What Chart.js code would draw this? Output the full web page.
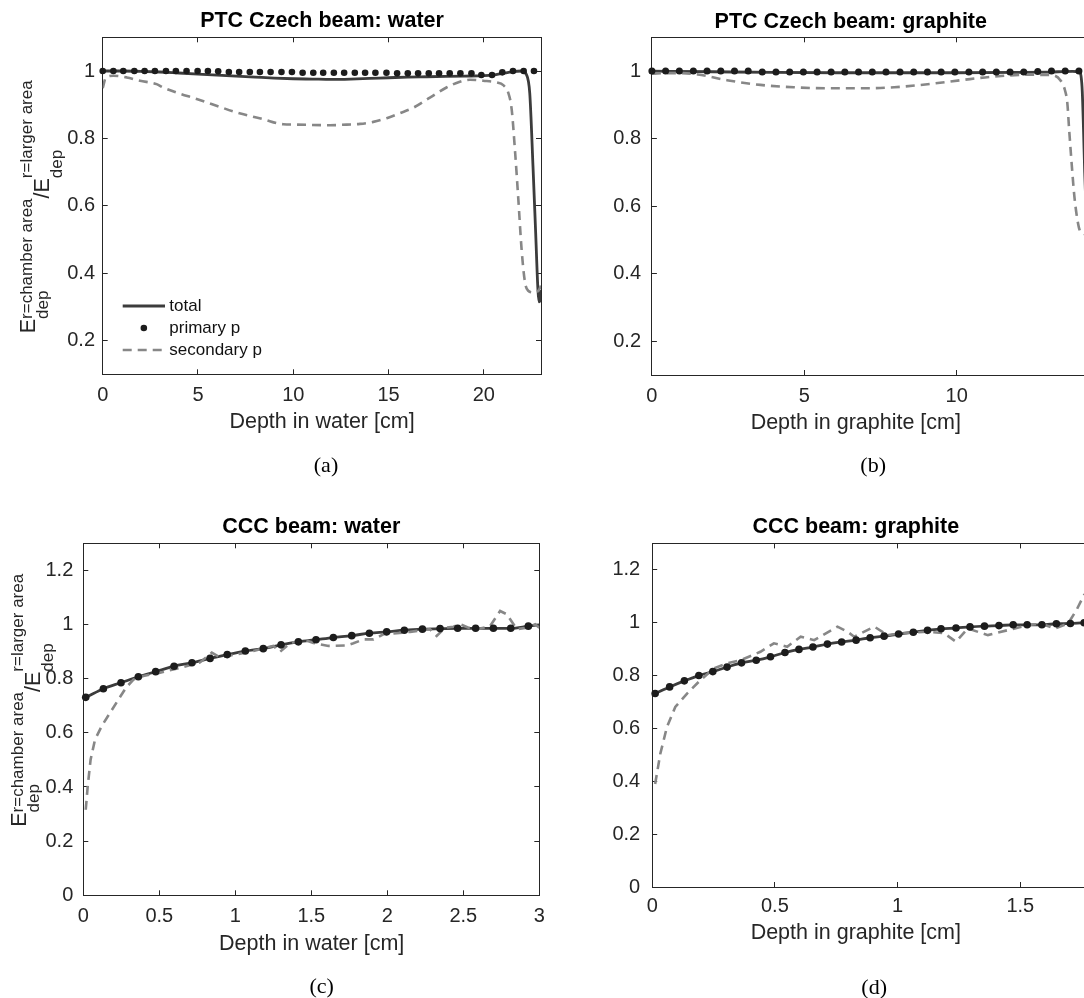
<!DOCTYPE html>
<html>
<head>
<meta charset="utf-8">
<title>Energy deposition ratio vs depth</title>
<script src="https://cdn.jsdelivr.net/npm/chart.js@4.4.1/dist/chart.umd.min.js"></script>
<style>
  html, body { margin: 0; padding: 0; background: #fff; }
  #fig { position: relative; width: 1084px; height: 998px; overflow: hidden; background: #fff; }
  #fig canvas { position: absolute; }
</style>
</head>
<body>
<div id="fig">
  <canvas id="ptcWater"></canvas>
  <canvas id="ptcGraphite"></canvas>
  <canvas id="cccWater"></canvas>
  <canvas id="cccGraphite"></canvas>
</div>
<script>
// ---------- PTC Czech beam, water ----------
const ptcWaterTotalX = [0, 1, 2, 3, 4, 5, 6, 7, 8, 9, 10, 11, 12, 13, 14, 15, 16, 17, 18, 19, 20, 20.5, 21, 21.5, 22, 22.23, 22.41, 22.58, 22.72, 22.84, 22.9, 22.96, 23.0];
const ptcWaterTotalY = [1.0, 1.0, 0.999, 0.997, 0.994, 0.991, 0.988, 0.985, 0.982, 0.979, 0.977, 0.976, 0.975, 0.976, 0.978, 0.980, 0.982, 0.983, 0.984, 0.985, 0.986, 0.988, 0.993, 0.998, 1.0, 0.99, 0.934, 0.717, 0.52, 0.35, 0.315, 0.32, 0.35];
const ptcWaterPrimaryX = [0, 0.56, 1.08, 1.66, 2.2, 2.74, 3.32, 3.84, 4.4, 4.98, 5.52, 6.06, 6.62, 7.16, 7.72, 8.25, 8.81, 9.38, 9.93, 10.49, 11.05, 11.57, 12.13, 12.67, 13.23, 13.77, 14.31, 14.89, 15.45, 16.01, 16.55, 17.11, 17.65, 18.21, 18.77, 19.35, 19.87, 20.43, 20.97, 21.53, 22.09, 22.63];
const ptcWaterPrimaryY = [1, 1, 1, 1, 1, 1, 1, 1, 1, 1, 1, 0.999, 0.997, 0.997, 0.997, 0.997, 0.997, 0.997, 0.997, 0.995, 0.995, 0.995, 0.995, 0.995, 0.995, 0.995, 0.995, 0.995, 0.993, 0.993, 0.993, 0.993, 0.993, 0.993, 0.993, 0.993, 0.988, 0.988, 0.996, 1, 1, 1];
const ptcWaterSecondaryX = [0, 0.17, 0.56, 1.26, 1.96, 2.83, 3.18, 3.88, 4.93, 5.97, 7.02, 8.42, 9.47, 10.17, 11.92, 12.8, 13.5, 14.2, 14.9, 15.6, 16.3, 17.17, 18.04, 18.74, 19.27, 19.97, 20.67, 21.02, 21.28, 21.46, 21.63, 21.81, 21.98, 22.16, 22.33, 22.59, 22.86, 23.0];
const ptcWaterSecondaryY = [0.949, 0.981, 0.986, 0.981, 0.971, 0.961, 0.951, 0.936, 0.917, 0.897, 0.877, 0.857, 0.842, 0.841, 0.839, 0.841, 0.843, 0.849, 0.86, 0.875, 0.891, 0.921, 0.951, 0.968, 0.974, 0.971, 0.966, 0.958, 0.936, 0.887, 0.768, 0.62, 0.472, 0.373, 0.348, 0.343, 0.348, 0.363];

// ---------- PTC Czech beam, graphite ----------
const ptcGraphiteTotalX = [0, 2, 4, 6, 8, 10, 12, 13, 13.8, 14.02, 14.08, 14.12, 14.16, 14.2, 14.28, 14.36, 14.45];
const ptcGraphiteTotalY = [1.0, 0.998, 0.996, 0.995, 0.995, 0.995, 0.996, 0.997, 0.999, 0.998, 0.985, 0.94, 0.83, 0.7, 0.5, 0.36, 0.32];
const ptcGraphitePrimaryX = [0, 0.45, 0.9, 1.36, 1.81, 2.26, 2.71, 3.16, 3.62, 4.07, 4.52, 4.97, 5.42, 5.88, 6.33, 6.78, 7.23, 7.68, 8.14, 8.59, 9.04, 9.49, 9.94, 10.4, 10.85, 11.3, 11.75, 12.2, 12.66, 13.11, 13.56, 14.01];
const ptcGraphitePrimaryY = [1, 1, 1, 1, 1, 1, 1, 1, 0.997, 0.997, 0.997, 0.997, 0.997, 0.997, 0.997, 0.997, 0.997, 0.997, 0.997, 0.997, 0.997, 0.997, 0.997, 0.997, 0.997, 0.997, 0.997, 0.997, 0.999, 1, 1, 1];
const ptcGraphiteSecondaryX = [0, 0.5, 1.0, 1.5, 2.46, 3.56, 4.66, 5.75, 7.07, 7.95, 9.04, 10.14, 11.24, 12.33, 13.12, 13.4, 13.55, 13.63, 13.69, 13.77, 13.86, 13.96, 14.05, 14.16, 14.35];
const ptcGraphiteSecondaryY = [0.992, 0.994, 0.994, 0.99, 0.973, 0.959, 0.952, 0.949, 0.949, 0.952, 0.961, 0.973, 0.984, 0.989, 0.988, 0.973, 0.944, 0.905, 0.826, 0.728, 0.63, 0.56, 0.526, 0.52, 0.5];

// ---------- CCC beam, water ----------
const cccWaterTotalX = [0, 0.016, 0.132, 0.248, 0.362, 0.476, 0.597, 0.715, 0.834, 0.947, 1.066, 1.184, 1.301, 1.415, 1.531, 1.645, 1.766, 1.882, 1.996, 2.112, 2.231, 2.347, 2.463, 2.581, 2.698, 2.812, 2.928, 3.0];
const cccWaterTotalY = [0.727, 0.731, 0.763, 0.785, 0.807, 0.826, 0.846, 0.859, 0.875, 0.889, 0.902, 0.911, 0.925, 0.936, 0.944, 0.952, 0.959, 0.968, 0.973, 0.979, 0.983, 0.985, 0.986, 0.986, 0.986, 0.986, 0.994, 0.999];
const cccWaterPrimaryX = [0.016, 0.132, 0.248, 0.362, 0.476, 0.597, 0.715, 0.834, 0.947, 1.066, 1.184, 1.301, 1.415, 1.531, 1.645, 1.766, 1.882, 1.996, 2.112, 2.231, 2.347, 2.463, 2.581, 2.698, 2.812, 2.928];
const cccWaterPrimaryY = [0.731, 0.763, 0.785, 0.807, 0.826, 0.846, 0.859, 0.875, 0.889, 0.902, 0.911, 0.925, 0.936, 0.944, 0.952, 0.959, 0.968, 0.973, 0.979, 0.983, 0.985, 0.986, 0.986, 0.986, 0.986, 0.994];
const cccWaterSecondaryX = [0.016, 0.029, 0.048, 0.077, 0.121, 0.176, 0.231, 0.281, 0.33, 0.395, 0.505, 0.636, 0.768, 0.845, 0.9, 1.009, 1.119, 1.25, 1.294, 1.36, 1.448, 1.514, 1.613, 1.733, 1.777, 1.843, 1.909, 1.974, 2.062, 2.15, 2.28, 2.325, 2.38, 2.435, 2.479, 2.534, 2.61, 2.676, 2.742, 2.786, 2.852, 2.918, 2.973, 3.0];
const cccWaterSecondaryY = [0.316, 0.402, 0.501, 0.575, 0.625, 0.674, 0.723, 0.767, 0.797, 0.81, 0.822, 0.84, 0.86, 0.896, 0.878, 0.89, 0.902, 0.921, 0.899, 0.931, 0.945, 0.932, 0.921, 0.923, 0.931, 0.945, 0.945, 0.964, 0.968, 0.973, 0.983, 0.958, 0.988, 0.992, 1.001, 0.988, 0.985, 0.994, 1.05, 1.038, 0.983, 0.988, 1.001, 0.988];

// ---------- CCC beam, graphite ----------
const cccGraphiteTotalX = [0, 0.012, 0.071, 0.131, 0.19, 0.247, 0.305, 0.364, 0.424, 0.482, 0.541, 0.598, 0.655, 0.714, 0.772, 0.831, 0.888, 0.945, 1.004, 1.064, 1.122, 1.177, 1.238, 1.295, 1.354, 1.413, 1.471, 1.528, 1.588, 1.647, 1.704, 1.76, 1.82];
const cccGraphiteTotalY = [0.728, 0.732, 0.757, 0.78, 0.8, 0.815, 0.832, 0.848, 0.858, 0.871, 0.887, 0.899, 0.908, 0.919, 0.927, 0.934, 0.943, 0.949, 0.957, 0.964, 0.971, 0.977, 0.98, 0.984, 0.987, 0.989, 0.992, 0.992, 0.992, 0.996, 0.997, 1.0, 1.001];
const cccGraphitePrimaryX = [0.012, 0.071, 0.131, 0.19, 0.247, 0.305, 0.364, 0.424, 0.482, 0.541, 0.598, 0.655, 0.714, 0.772, 0.831, 0.888, 0.945, 1.004, 1.064, 1.122, 1.177, 1.238, 1.295, 1.354, 1.413, 1.471, 1.528, 1.588, 1.647, 1.704, 1.76];
const cccGraphitePrimaryY = [0.732, 0.757, 0.78, 0.8, 0.815, 0.832, 0.848, 0.858, 0.871, 0.887, 0.899, 0.908, 0.919, 0.927, 0.934, 0.943, 0.949, 0.957, 0.964, 0.971, 0.977, 0.98, 0.984, 0.987, 0.989, 0.992, 0.992, 0.992, 0.996, 0.997, 1.0];
const cccGraphiteSecondaryX = [0.012, 0.033, 0.06, 0.094, 0.142, 0.196, 0.251, 0.305, 0.36, 0.441, 0.496, 0.55, 0.605, 0.66, 0.755, 0.796, 0.823, 0.905, 0.96, 1.014, 1.123, 1.19, 1.238, 1.286, 1.368, 1.45, 1.531, 1.586, 1.64, 1.695, 1.729, 1.76, 1.8];
const cccGraphiteSecondaryY = [0.39, 0.504, 0.605, 0.681, 0.732, 0.782, 0.827, 0.846, 0.858, 0.89, 0.922, 0.909, 0.947, 0.934, 0.985, 0.966, 0.947, 0.985, 0.953, 0.96, 0.966, 0.96, 0.928, 0.978, 0.953, 0.972, 0.991, 0.996, 0.978, 0.997, 1.048, 1.105, 1.13];

// ---------- tick values ----------
const ptcWaterXTicks = [0, 5, 10, 15, 20];
const ptcGraphiteXTicks = [0, 5, 10];
const ptcYTicks = [0.2, 0.4, 0.6, 0.8, 1];
const cccWaterXTicks = [0, 0.5, 1, 1.5, 2, 2.5, 3];
const cccGraphiteXTicks = [0, 0.5, 1, 1.5, 2];
const cccYTicks = [0, 0.2, 0.4, 0.6, 0.8, 1, 1.2];

const SANS = "'Liberation Sans', Arial, Helvetica, sans-serif";
const SERIF = "'Liberation Serif', 'Times New Roman', serif";
const INK = '#262626';
const TOTAL_COLOR = '#3c3c3c';
const PRIMARY_COLOR = '#1c1c1c';
const SECONDARY_COLOR = '#878787';
const DASH = [9, 6];

function pts(xs, ys) {
  return xs.map((x, i) => ({ x: x, y: ys[i] }));
}

function fixedTicks(values) {
  return function (scale) { scale.ticks = values.map(v => ({ value: v })); };
}

// titles, axis names and sub-figure letters
function panelText(items) {
  return {
    id: 'panelText',
    afterDraw(chart) {
      const ctx = chart.ctx;
      ctx.save();
      ctx.textAlign = 'center';
      ctx.textBaseline = 'middle';
      items.forEach(t => {
        ctx.font = t.font;
        ctx.fillStyle = t.color;
        ctx.fillText(t.text, t.x, t.y);
      });
      ctx.restore();
    }
  };
}

// rotated E_dep^{...}/E_dep^{...} label with super/subscripts
function texYLabel(o) {
  return {
    id: 'texYLabel',
    afterDraw(chart) {
      const ctx = chart.ctx;
      const big = o.size + 'px ' + SANS;
      const small = o.script + 'px ' + SANS;
      ctx.save();
      ctx.font = big;
      const wE = ctx.measureText('E').width;
      const wSl = ctx.measureText('/').width;
      ctx.font = small;
      const wSup1 = ctx.measureText(o.sup1).width;
      const wSup2 = ctx.measureText(o.sup2).width;
      const wSub = ctx.measureText('dep').width;
      const len = wE + Math.max(wSup1, wSub) + wSl + wE + Math.max(wSup2, wSub);
      const a = chart.chartArea;
      const cy = (a.top + a.bottom) / 2 + o.dy;
      ctx.translate(o.x, cy + len / 2);
      ctx.rotate(-Math.PI / 2);
      ctx.fillStyle = INK;
      ctx.textAlign = 'left';
      ctx.textBaseline = 'alphabetic';
      let u = 0;
      ctx.font = big;
      ctx.fillText('E', u, 0);
      u += wE;
      ctx.font = small;
      ctx.fillText(o.sup1, u, -o.supShift);
      ctx.fillText('dep', u, o.subShift);
      u += Math.max(wSup1, wSub);
      ctx.font = big;
      ctx.fillText('/', u, o.low);
      u += wSl;
      ctx.fillText('E', u, o.low);
      u += wE;
      ctx.font = small;
      ctx.fillText(o.sup2, u, -o.supShift);
      ctx.fillText('dep', u, o.low + o.subShift);
      ctx.restore();
    }
  };
}

// small in-axes legend drawn from the dataset styles
function legendBox(o) {
  return {
    id: 'legendBox',
    afterDraw(chart) {
      const ctx = chart.ctx;
      ctx.save();
      o.labels.forEach((label, i) => {
        const ds = chart.data.datasets.find(d => d.label === label);
        const y = o.y + i * o.row;
        if (ds.showLine === false) {
          ctx.beginPath();
          ctx.fillStyle = ds.pointBackgroundColor;
          ctx.arc(o.x + o.len / 2, y, ds.pointRadius, 0, Math.PI * 2);
          ctx.fill();
        } else {
          ctx.beginPath();
          ctx.strokeStyle = ds.borderColor;
          ctx.lineWidth = ds.borderWidth;
          ctx.setLineDash(ds.borderDash || []);
          ctx.moveTo(o.x, y);
          ctx.lineTo(o.x + o.len, y);
          ctx.stroke();
          ctx.setLineDash([]);
        }
        ctx.font = o.size + 'px ' + SANS;
        ctx.fillStyle = '#111';
        ctx.textAlign = 'left';
        ctx.textBaseline = 'middle';
        ctx.fillText(label, o.x + o.len + o.gap, y);
      });
      ctx.restore();
    }
  };
}

function frame() {
  return { color: INK, lineWidth: 1, drawOnChartArea: false, drawTicks: true, tickLength: -5 };
}

function makePanel(p) {
  const cv = document.getElementById(p.id);
  cv.width = p.box.w;
  cv.height = p.box.h;
  cv.style.left = p.box.x + 'px';
  cv.style.top = p.box.y + 'px';
  cv.style.width = p.box.w + 'px';
  cv.style.height = p.box.h + 'px';

  const yAxisW = p.area.l - p.box.x;
  const xAxisH = p.box.y + p.box.h - p.area.b;
  const tickFont = { family: SANS, size: 20 };
  const fmt = v => String(v);

  const extra = [panelText(p.texts.map(t => Object.assign({}, t, { x: t.x - p.box.x, y: t.y - p.box.y })))];
  if (p.ylabel) extra.push(texYLabel(Object.assign({}, p.ylabel, { x: p.ylabel.x - p.box.x })));
  if (p.legend) extra.push(legendBox(Object.assign({}, p.legend, { x: p.legend.x - p.box.x, y: p.legend.y - p.box.y })));

  return new Chart(cv, {
    type: 'line',
    data: {
      datasets: [
        {
          label: 'primary p',
          data: pts(p.primaryX, p.primaryY),
          showLine: false,
          pointRadius: p.dot,
          pointBackgroundColor: PRIMARY_COLOR,
          pointBorderColor: PRIMARY_COLOR,
          pointBorderWidth: 0,
          clip: 10,
          xAxisID: 'x', yAxisID: 'y'
        },
        {
          label: 'secondary p',
          data: pts(p.secondaryX, p.secondaryY),
          borderColor: SECONDARY_COLOR,
          borderWidth: 2.6,
          borderDash: DASH,
          pointRadius: 0,
          cubicInterpolationMode: p.smoothSecondary ? 'monotone' : 'default',
          tension: 0,
          xAxisID: 'x', yAxisID: 'y'
        },
        {
          label: 'total',
          data: pts(p.totalX, p.totalY),
          borderColor: TOTAL_COLOR,
          borderWidth: 2.8,
          pointRadius: 0,
          cubicInterpolationMode: 'monotone',
          xAxisID: 'x', yAxisID: 'y'
        }
      ]
    },
    options: {
      responsive: false,
      animation: false,
      events: [],
      layout: {
        padding: { left: 0, top: p.area.t - p.box.y, right: p.box.x + p.box.w - p.area.r, bottom: 0 }
      },
      plugins: { legend: { display: false }, tooltip: { enabled: false }, title: { display: false } },
      scales: {
        x: {
          type: 'linear', position: 'bottom', display: true,
          min: p.xMin, max: p.xMax,
          afterBuildTicks: fixedTicks(p.xTicks),
          afterFit: s => { s.height = xAxisH; },
          grid: frame(),
          border: { display: true, color: INK, width: 1 },
          ticks: { color: INK, font: tickFont, padding: p.xPad, maxRotation: 0, autoSkip: false, callback: fmt }
        },
        xTop: {
          type: 'linear', position: 'top', display: true,
          min: p.xMin, max: p.xMax,
          afterBuildTicks: fixedTicks(p.xTicks),
          afterFit: s => { s.height = 0; },
          grid: frame(),
          border: { display: true, color: INK, width: 1 },
          ticks: { display: false }
        },
        y: {
          type: 'linear', position: 'left', display: true,
          min: p.yMin, max: p.yMax,
          afterBuildTicks: fixedTicks(p.yTicks),
          afterFit: s => { s.width = yAxisW; },
          grid: frame(),
          border: { display: true, color: INK, width: 1 },
          ticks: { color: INK, font: tickFont, padding: p.yPad, autoSkip: false, callback: fmt }
        },
        yRight: {
          type: 'linear', position: 'right', display: true,
          min: p.yMin, max: p.yMax,
          afterBuildTicks: fixedTicks(p.yTicks),
          afterFit: s => { s.width = 0; },
          grid: frame(),
          border: { display: true, color: INK, width: 1 },
          ticks: { display: false }
        }
      }
    },
    plugins: extra
  });
}

function labels(title, xName, letter, pos) {
  return [
    { text: title, x: pos.tx, y: pos.ty, font: 'bold 21.5px ' + SANS, color: '#000' },
    { text: xName, x: pos.lx, y: pos.ly, font: '21.5px ' + SANS, color: INK },
    { text: letter, x: pos.cx, y: pos.cy, font: '22px ' + SERIF, color: '#000' }
  ];
}

const yLabelStyle = { size: 21.5, script: 17, supShift: 3, subShift: 12.5, low: 14, sup1: 'r=chamber area', sup2: 'r=larger area' };

makePanel({
  id: 'ptcWater',
  box: { x: 0, y: 0, w: 560, h: 495 },
  area: { l: 102.7, t: 37.3, r: 541, b: 374.3 },
  xMin: 0, xMax: 23, yMin: 0.1, yMax: 1.1,
  xTicks: ptcWaterXTicks, yTicks: ptcYTicks,
  xPad: 13.7, yPad: 12.7, dot: 3.3,
  totalX: ptcWaterTotalX, totalY: ptcWaterTotalY,
  primaryX: ptcWaterPrimaryX, primaryY: ptcWaterPrimaryY,
  secondaryX: ptcWaterSecondaryX, secondaryY: ptcWaterSecondaryY,
  smoothSecondary: true,
  texts: labels('PTC Czech beam: water', 'Depth in water [cm]', '(a)', { tx: 322, ty: 20.7, lx: 322, ly: 421.7, cx: 326, cy: 466.7 }),
  ylabel: Object.assign({ x: 35, dy: 1 }, yLabelStyle),
  legend: { x: 122.7, y: 306, len: 42.3, gap: 4.3, row: 22, size: 17, labels: ['total', 'primary p', 'secondary p'] }
});

makePanel({
  id: 'ptcGraphite',
  box: { x: 560, y: 0, w: 620, h: 495 },
  area: { l: 651.9, t: 37.3, r: 1096.9, b: 375 },
  xMin: 0, xMax: 14.6, yMin: 0.1, yMax: 1.1,
  xTicks: ptcGraphiteXTicks, yTicks: ptcYTicks,
  xPad: 14, yPad: 15.9, dot: 3.5,
  totalX: ptcGraphiteTotalX, totalY: ptcGraphiteTotalY,
  primaryX: ptcGraphitePrimaryX, primaryY: ptcGraphitePrimaryY,
  secondaryX: ptcGraphiteSecondaryX, secondaryY: ptcGraphiteSecondaryY,
  smoothSecondary: true,
  texts: labels('PTC Czech beam: graphite', 'Depth in graphite [cm]', '(b)', { tx: 850.8, ty: 21.7, lx: 855.8, ly: 422.8, cx: 873.2, cy: 466.2 })
});

makePanel({
  id: 'cccWater',
  box: { x: 0, y: 500, w: 580, h: 498 },
  area: { l: 83.3, t: 543.3, r: 539.3, b: 895.3 },
  xMin: 0, xMax: 3, yMin: 0, yMax: 1.3,
  xTicks: cccWaterXTicks, yTicks: cccYTicks,
  xPad: 14.4, yPad: 15, dot: 3.8,
  totalX: cccWaterTotalX, totalY: cccWaterTotalY,
  primaryX: cccWaterPrimaryX, primaryY: cccWaterPrimaryY,
  secondaryX: cccWaterSecondaryX, secondaryY: cccWaterSecondaryY,
  smoothSecondary: false,
  texts: labels('CCC beam: water', 'Depth in water [cm]', '(c)', { tx: 311.3, ty: 526.7, lx: 311.7, ly: 944, cx: 321.7, cy: 987.3 }),
  ylabel: Object.assign({ x: 26, dy: -19 }, yLabelStyle)
});

makePanel({
  id: 'cccGraphite',
  box: { x: 560, y: 500, w: 620, h: 498 },
  area: { l: 652.2, t: 543.4, r: 1143, b: 887 },
  xMin: 0, xMax: 2, yMin: 0, yMax: 1.3,
  xTicks: cccGraphiteXTicks, yTicks: cccYTicks,
  xPad: 12, yPad: 17, dot: 3.8,
  totalX: cccGraphiteTotalX, totalY: cccGraphiteTotalY,
  primaryX: cccGraphitePrimaryX, primaryY: cccGraphitePrimaryY,
  secondaryX: cccGraphiteSecondaryX, secondaryY: cccGraphiteSecondaryY,
  smoothSecondary: false,
  texts: labels('CCC beam: graphite', 'Depth in graphite [cm]', '(d)', { tx: 855.8, ty: 526.7, lx: 855.8, ly: 932.8, cx: 874.2, cy: 988 })
});
</script>
</body>
</html>
